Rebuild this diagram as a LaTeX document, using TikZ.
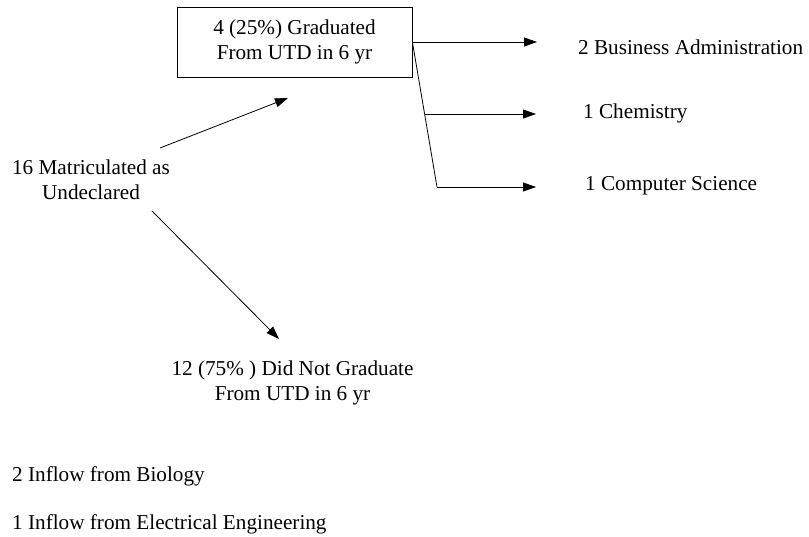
\documentclass[tikz,border=0pt]{standalone}
\usepackage{fontspec}
\setmainfont{Liberation Serif}
\usepackage{tikz}
\usetikzlibrary{arrows.meta}

\tikzset{
    lbl/.style = {font = {\fontsize{21.2}{24.5}\selectfont}, black, inner sep=0pt, align=center},
    flow/.style = {-{Triangle[length=13pt,width=9pt]}, line width=0.8pt},
}

\begin{document}
\begin{tikzpicture}[x=1pt, y=-1pt]
        \useasboundingbox (0, 0) rectangle (809, 537);

        \node[lbl, draw, line width=0.8pt, minimum width=235pt, minimum height=70pt] (grad) at (294.5, 42) {4 (25\%) Graduated\\From UTD in 6 yr};
        \node[lbl] (matric) at (91, 180) {16 Matriculated as\\Undeclared};
        \node[lbl] (notgrad) at (292.5, 383) {12 (75\% ) Did Not Graduate\\From UTD in 6 yr};

        \node[lbl, anchor=west] (busadm) at (578, 47) {2 Business Administration};
        \node[lbl, anchor=west] (chem) at (583, 113) {1 Chemistry};
        \node[lbl, anchor=west] (compsci) at (585, 186) {1 Computer Science};

        \node[lbl, anchor=west] (inbio) at (12, 476) {2 Inflow from Biology};
        \node[lbl, anchor=west] (inee) at (12, 524) {1 Inflow from Electrical Engineering};

        % ends of the arrows
        \coordinate (mgtail) at (160, 148);
        \coordinate (mghead) at (288, 98);
        \coordinate (mntail) at (152, 211);
        \coordinate (mnhead) at (279, 339);
        \coordinate (chfork) at (425, 114);
        \coordinate (csfork) at (437, 187);
        \coordinate (bahead) at (537, 42);
        \coordinate (chhead) at (536, 114);
        \coordinate (cshead) at (536, 187);

        \draw[flow] (mgtail) -- (mghead);
        \draw[flow] (mntail) -- (mnhead);

        \draw[line width=0.8pt] (grad.east) -- (csfork);
        \draw[flow] (grad.east) -- (bahead);
        \draw[flow] (chfork) -- (chhead);
        \draw[flow] (csfork) -- (cshead);
    \end{tikzpicture}
\end{document}
